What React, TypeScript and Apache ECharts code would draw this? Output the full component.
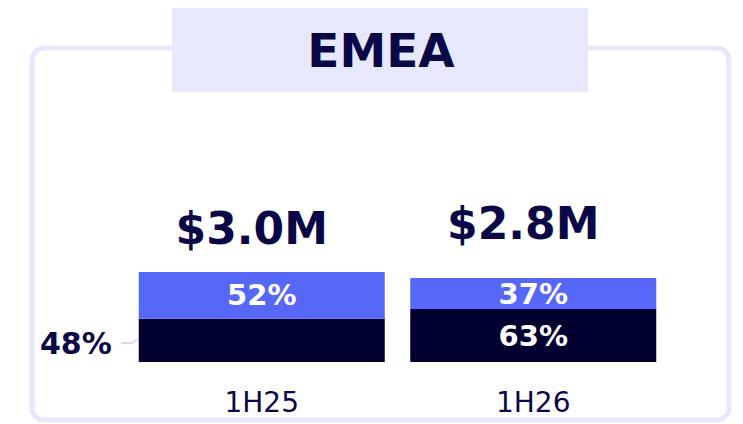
import React, { useEffect, useRef } from "react";
import * as echarts from "echarts";

const categories = ["1H25", "1H26"];
const totals = [3.0, 2.8];
const darkShare = [48, 63];
const blueShare = [52, 37];
const title = "EMEA";

const NAVY = "#0a0846";
const DARK = "#000030";
const BLUE = "#5767f7";
const LAV = "#e8e8fc";
const FONT = "DejaVu Sans";

export default function App() {
  const ref = useRef<HTMLDivElement>(null);
  useEffect(() => {
    document.body.style.margin = "0";
    const chart = echarts.init(ref.current!, null, { renderer: "svg" });
    const darkVals = totals.map((t, i) => +(t * darkShare[i] / 100).toFixed(3));
    const blueVals = totals.map((t, i) => +(t * blueShare[i] / 100).toFixed(3));
    chart.setOption({
      animation: false,
      graphic: [
        {
          type: "rect",
          z: 0,
          shape: { x: 32, y: 48, width: 697, height: 372, r: 12 },
          style: { fill: "none", stroke: LAV, lineWidth: 5 },
        },
        {
          type: "rect",
          z: 1,
          shape: { x: 172, y: 8, width: 416, height: 84 },
          style: { fill: LAV },
        },
        {
          type: "text",
          z: 2,
          x: 381,
          y: 50,
          style: {
            text: title,
            align: "center",
            verticalAlign: "middle",
            fontFamily: FONT,
            fontWeight: "bold",
            fontSize: 47,
            fill: NAVY,
          },
        },
        {
          type: "polyline",
          z: 2,
          shape: { points: [[121, 343], [132, 343], [137, 339]] },
          style: { stroke: "#c9cbf5", lineWidth: 1.5, fill: "none" },
        },
      ],
      grid: { left: 126, width: 543, bottom: 62, top: 182 },
      xAxis: {
        type: "category",
        data: categories,
        axisLine: { show: false },
        axisTick: { show: false },
        axisLabel: { margin: 26, fontFamily: FONT, fontSize: 28, color: NAVY, fontWeight: "normal" },
      },
      yAxis: { type: "value", min: 0, max: 6, show: false },
      series: [
        {
          type: "bar",
          stack: "s",
          barWidth: 246,
          itemStyle: { color: DARK },
          label: {
            show: true,
            position: "inside",
            formatter: (p: any) => darkShare[p.dataIndex] + "%",
            fontFamily: FONT,
            fontWeight: "bold",
            fontSize: 29,
            color: "#ffffff",
          },
          data: darkVals.map((v, i) =>
            i === 0
              ? {
                  value: v,
                  label: { position: "left", distance: 27, color: NAVY, fontSize: 30, offset: [0, 3] },
                }
              : v
          ),
        },
        {
          type: "bar",
          stack: "s",
          barWidth: 246,
          itemStyle: { color: BLUE },
          label: {
            show: true,
            position: "inside",
            formatter: (p: any) => blueShare[p.dataIndex] + "%",
            fontFamily: FONT,
            fontWeight: "bold",
            fontSize: 29,
            color: "#ffffff",
          },
          data: blueVals,
        },
        {
          type: "bar",
          stack: "s",
          barWidth: 246,
          itemStyle: { color: "transparent" },
          label: {
            show: true,
            position: "top",
            offset: [-10, 0],
            formatter: (p: any) => "$" + totals[p.dataIndex].toFixed(1) + "M",
            fontFamily: FONT,
            fontWeight: "bold",
            fontSize: 44,
            color: NAVY,
          },
          data: totals.map((v, i) => ({ value: 0, label: { distance: i === 0 ? 22 : 33 } })),
        },
      ],
    });
    return () => chart.dispose();
  }, []);
  return <div ref={ref} style={{ width: 743, height: 424 }} />;
}
